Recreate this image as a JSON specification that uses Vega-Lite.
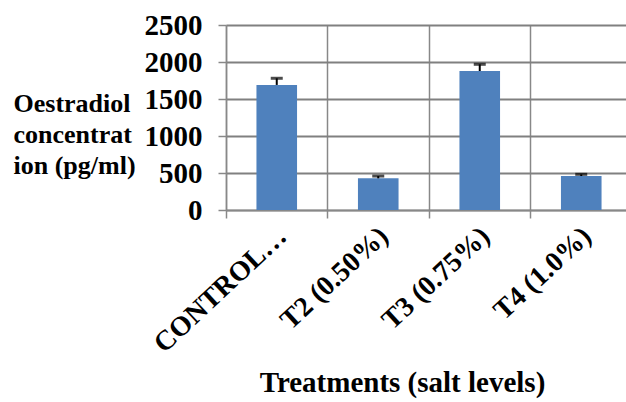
{
  "$schema": "https://vega.github.io/schema/vega-lite/v6.json",
  "width": 400,
  "height": 185,
  "autosize": {"type": "none"},
  "padding": {"left": 226, "top": 25, "right": 0, "bottom": 192},
  "background": "white",
  "config": {
    "view": {"stroke": null},
    "font": "Liberation Serif",
    "axis": {
      "domainColor": "#888888", "domainWidth": 1.5,
      "tickColor": "#888888", "tickWidth": 1.5, "tickSize": 8,
      "labelFont": "Liberation Serif", "labelFontWeight": "bold", "labelColor": "black",
      "titleFont": "Liberation Serif", "titleFontWeight": "bold", "titleColor": "black"
    },
    "axisY": {
      "grid": true, "gridColor": "#808080", "gridWidth": 2, "gridOpacity": 1,
      "labelPadding": 16, "labelFontSize": 29, "labelOverlap": false,
      "titleFontSize": 26, "titleAngle": 0, "titleAlign": "left", "titleBaseline": "middle",
      "titleLineHeight": 31, "titleX": -213, "titleY": 78
    },
    "axisX": {
      "grid": true, "gridColor": "#888888", "gridWidth": 1.5, "gridOpacity": 1,
      "bandPosition": 0,
      "labelAngle": -43, "labelAlign": "right", "labelBaseline": "middle",
      "labelOffset": 6, "labelPadding": 14, "labelFontSize": 28,
      "titleFontSize": 29, "titleX": 176, "titleY": 181, "titleAlign": "center", "titleBaseline": "alphabetic"
    }
  },
  "data": {"values": [
    {"treatment": "CONTROL…", "mean": 1690, "upper": 1780},
    {"treatment": "T2 (0.50%)", "mean": 428, "upper": 459},
    {"treatment": "T3 (0.75%)", "mean": 1878, "upper": 1969},
    {"treatment": "T4 (1.0%)", "mean": 459, "upper": 482}
  ]},
  "encoding": {
    "x": {
      "field": "treatment", "type": "nominal", "sort": null,
      "scale": {"range": [0, 406], "paddingInner": 0, "paddingOuter": 0},
      "title": "Treatments (salt levels)"
    },
    "y": {
      "field": "mean", "type": "quantitative",
      "scale": {"domain": [0, 2500], "nice": false},
      "title": ["Oestradiol", "concentrat", "ion (pg/ml)"],
      "axis": {"values": [0, 500, 1000, 1500, 2000, 2500], "format": "d", "grid": true, "gridColor": "#808080", "gridWidth": 2}
    }
  },
  "layer": [
    {
      "mark": {"type": "bar", "width": {"band": 0.4}, "color": "#4F81BD"}
    },
    {
      "mark": {"type": "rule", "color": "black", "strokeWidth": 2},
      "encoding": {
        "y2": {"field": "upper"}
      }
    },
    {
      "mark": {"type": "tick", "color": "black", "thickness": 3, "size": 12},
      "encoding": {
        "y": {"field": "upper", "type": "quantitative", "title": ["Oestradiol", "concentrat", "ion (pg/ml)"],
              "axis": {"values": [0, 500, 1000, 1500, 2000, 2500], "format": "d", "grid": true, "gridColor": "#808080", "gridWidth": 2}}
      }
    }
  ]
}
